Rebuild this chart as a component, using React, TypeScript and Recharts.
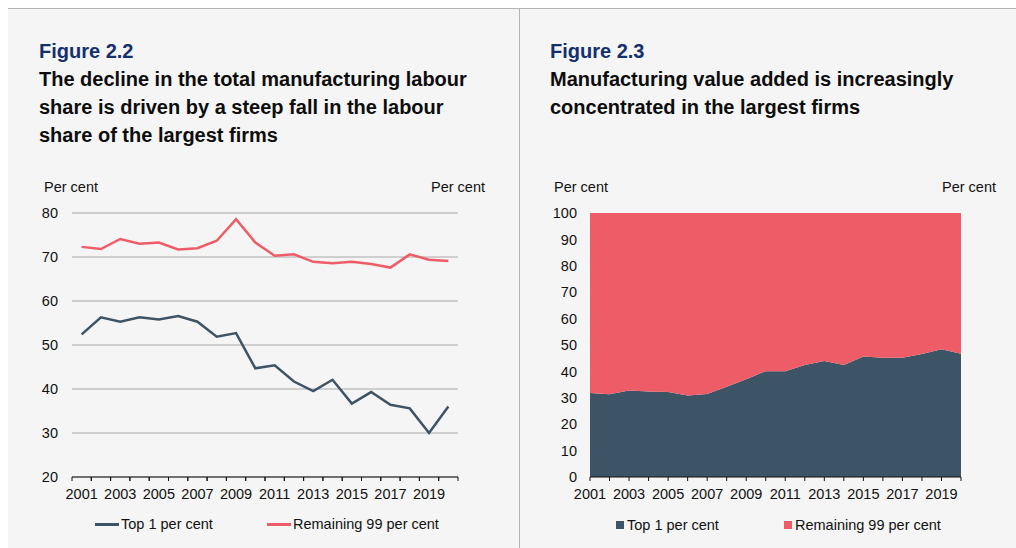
import React from "react";
import { Area, AreaChart, CartesianGrid, Line, LineChart, XAxis, YAxis } from "recharts";

const years = [
  "2001", "2002", "2003", "2004", "2005", "2006", "2007", "2008", "2009", "2010",
  "2011", "2012", "2013", "2014", "2015", "2016", "2017", "2018", "2019", "2020",
];

// Figure 2.2 – labour share, per cent
const top1LabourShare = [
  52.4, 56.3, 55.3, 56.3, 55.8, 56.6, 55.3, 51.9, 52.7, 44.7,
  45.4, 41.7, 39.5, 42.1, 36.7, 39.3, 36.4, 35.6, 30.0, 36.0,
];
const rest99LabourShare = [
  72.3, 71.8, 74.1, 73.0, 73.3, 71.7, 72.0, 73.7, 78.6, 73.3,
  70.3, 70.6, 68.9, 68.6, 68.9, 68.4, 67.6, 70.6, 69.4, 69.1,
];

// Figure 2.3 – share of manufacturing value added, per cent
const top1ValueAdded = [
  31.8, 31.3, 32.8, 32.4, 32.2, 30.9, 31.4, 34.2, 37.0, 40.1,
  40.1, 42.4, 43.9, 42.4, 45.6, 45.2, 45.2, 46.6, 48.4, 46.7,
];
const rest99ValueAdded = [
  68.2, 68.7, 67.2, 67.6, 67.8, 69.1, 68.6, 65.8, 63.0, 59.9,
  59.9, 57.6, 56.1, 57.6, 54.4, 54.8, 54.8, 53.4, 51.6, 53.3,
];

const labourTicks = [20, 30, 40, 50, 60, 70, 80];
const valueTicks = [0, 10, 20, 30, 40, 50, 60, 70, 80, 90, 100];

const FONT = '"Liberation Sans", Arial, Helvetica, sans-serif';
const DARK = "#3d5366";
const RED = "#ee5d67";
const NAVY = "#15306e";
const BG = "#f5f5f5";
const RULE = "#b4b4b4";
const SMALL = 14.5;
const AXIS_TICK = { fontSize: SMALL, fill: "#111", fontFamily: FONT };

const labourData = years.map((year, i) => ({
  year,
  top1: top1LabourShare[i],
  rest99: rest99LabourShare[i],
}));
const valueData = years.map((year, i) => ({
  year,
  top1: top1ValueAdded[i],
  rest99: rest99ValueAdded[i],
}));

// left plot is 386px wide with 20 year bands; points sit in the middle of each band
const LEFT_PLOT_W = 386;
const BAND = LEFT_PLOT_W / years.length;

function BandTick(props: any) {
  const { x, y, payload, index } = props;
  return (
    <g>
      <line x1={x - BAND / 2} x2={x - BAND / 2} y1={y} y2={y + 4} stroke="#111" />
      <line x1={x + BAND / 2} x2={x + BAND / 2} y1={y} y2={y + 4} stroke="#111" />
      {index % 2 === 0 && (
        <text x={x} y={y + 22} textAnchor="middle" {...AXIS_TICK}>
          {payload.value}
        </text>
      )}
    </g>
  );
}

function PointTick(props: any) {
  const { x, y, payload, index } = props;
  if (index % 2 !== 0) return <g />;
  return (
    <text x={x} y={y + 18} textAnchor="middle" {...AXIS_TICK}>
      {payload.value}
    </text>
  );
}

function Title({ left, figure, lines }: { left: number; figure: string; lines: string[] }) {
  return (
    <div
      style={{
        position: "absolute",
        left,
        top: 37,
        fontFamily: FONT,
        fontWeight: 700,
        fontSize: 20,
        lineHeight: "28px",
        color: "#0d0d0d",
        whiteSpace: "nowrap",
      }}
    >
      <div style={{ color: NAVY }}>{figure}</div>
      {lines.map((l) => (
        <div key={l}>{l}</div>
      ))}
    </div>
  );
}

function Label({ left, top, text }: { left: number; top: number; text: string }) {
  return (
    <div style={{ position: "absolute", left, top, fontFamily: FONT, fontSize: SMALL, color: "#111", lineHeight: "16px", whiteSpace: "nowrap" }}>
      {text}
    </div>
  );
}

function LegendItem({ left, top, text, color, kind }: { left: number; top: number; text: string; color: string; kind: "line" | "square" }) {
  return (
    <div style={{ position: "absolute", left, top, display: "flex", alignItems: "center", fontFamily: FONT, fontSize: SMALL, color: "#111", lineHeight: "16px", whiteSpace: "nowrap" }}>
      {kind === "line" ? (
        <span style={{ display: "inline-block", width: 24, height: 3, background: color, marginRight: 2 }} />
      ) : (
        <span style={{ display: "inline-block", width: 8, height: 8, background: color, marginRight: 3 }} />
      )}
      {text}
    </div>
  );
}

export default function App() {
  return (
    <div style={{ position: "fixed", left: 0, top: 0, width: 1016, height: 548, background: "#fff", overflow: "hidden" }}>
      <div style={{ position: "absolute", left: 8, top: 8, width: 1008, height: 540, background: BG, borderTop: `1px solid ${RULE}` }} />
      <div style={{ position: "absolute", left: 519, top: 8, width: 1, height: 540, background: RULE }} />

      <Title
        left={39}
        figure="Figure 2.2"
        lines={[
          "The decline in the total manufacturing labour",
          "share is driven by a steep fall in the labour",
          "share of the largest firms",
        ]}
      />
      <Title
        left={550}
        figure="Figure 2.3"
        lines={["Manufacturing value added is increasingly", "concentrated in the largest firms"]}
      />

      <Label left={44} top={179} text="Per cent" />
      <Label left={431} top={179} text="Per cent" />
      <Label left={554} top={179} text="Per cent" />
      <Label left={942} top={179} text="Per cent" />

      <div style={{ position: "absolute", left: 20, top: 170 }}>
        <LineChart width={480} height={340} data={labourData} margin={{ top: 43, right: 0, bottom: 0, left: 0 }}>
          <CartesianGrid horizontal vertical={false} stroke="#a9a9a9" yAxisId="left" />
          <XAxis
            dataKey="year"
            height={33}
            interval={0}
            padding={{ left: BAND / 2, right: BAND / 2 }}
            tickLine={false}
            tickSize={0}
            tickMargin={0}
            axisLine={{ stroke: "#111" }}
            tick={<BandTick />}
          />
          <YAxis
            yAxisId="left"
            width={52}
            domain={[20, 80]}
            ticks={labourTicks}
            interval={0}
            axisLine={false}
            tickLine={false}
            tickSize={0}
            tickMargin={14}
            tick={AXIS_TICK}
          />
          <YAxis
            yAxisId="right"
            orientation="right"
            width={42}
            domain={[20, 80]}
            ticks={labourTicks}
            interval={0}
            axisLine={false}
            tickLine={false}
            tickSize={0}
            tickMargin={12}
            tick={{ ...AXIS_TICK, textAnchor: "start" }}
          />
          <Line yAxisId="left" type="linear" dataKey="top1" name="Top 1 per cent" stroke={DARK} strokeWidth={2.5} dot={false} isAnimationActive={false} />
          <Line yAxisId="left" type="linear" dataKey="rest99" name="Remaining 99 per cent" stroke={RED} strokeWidth={2.5} dot={false} isAnimationActive={false} />
        </LineChart>
      </div>

      <div style={{ position: "absolute", left: 540, top: 170 }}>
        <AreaChart width={470} height={340} data={valueData} margin={{ top: 43, right: 0, bottom: 0, left: 0 }}>
          <XAxis
            dataKey="year"
            height={33}
            interval={0}
            tickSize={4}
            tickMargin={0}
            tickLine={{ stroke: "#111" }}
            axisLine={{ stroke: "#111" }}
            tick={<PointTick />}
          />
          <YAxis
            yAxisId="left"
            width={50}
            domain={[0, 100]}
            ticks={valueTicks}
            interval={0}
            axisLine={false}
            tickLine={false}
            tickSize={0}
            tickMargin={13}
            tick={AXIS_TICK}
          />
          <YAxis
            yAxisId="right"
            orientation="right"
            width={49}
            domain={[0, 100]}
            ticks={valueTicks}
            interval={0}
            axisLine={false}
            tickLine={false}
            tickSize={0}
            tickMargin={12}
            tick={{ ...AXIS_TICK, textAnchor: "start" }}
          />
          <Area yAxisId="left" type="linear" dataKey="top1" stackId="share" name="Top 1 per cent" stroke="none" fill={DARK} fillOpacity={1} isAnimationActive={false} />
          <Area yAxisId="left" type="linear" dataKey="rest99" stackId="share" name="Remaining 99 per cent" stroke="none" fill={RED} fillOpacity={1} isAnimationActive={false} />
        </AreaChart>
      </div>

      <LegendItem left={95} top={516} text="Top 1 per cent" color={DARK} kind="line" />
      <LegendItem left={267} top={516} text="Remaining 99 per cent" color={RED} kind="line" />
      <LegendItem left={616} top={517} text="Top 1 per cent" color={DARK} kind="square" />
      <LegendItem left={784} top={517} text="Remaining 99 per cent" color={RED} kind="square" />
    </div>
  );
}
